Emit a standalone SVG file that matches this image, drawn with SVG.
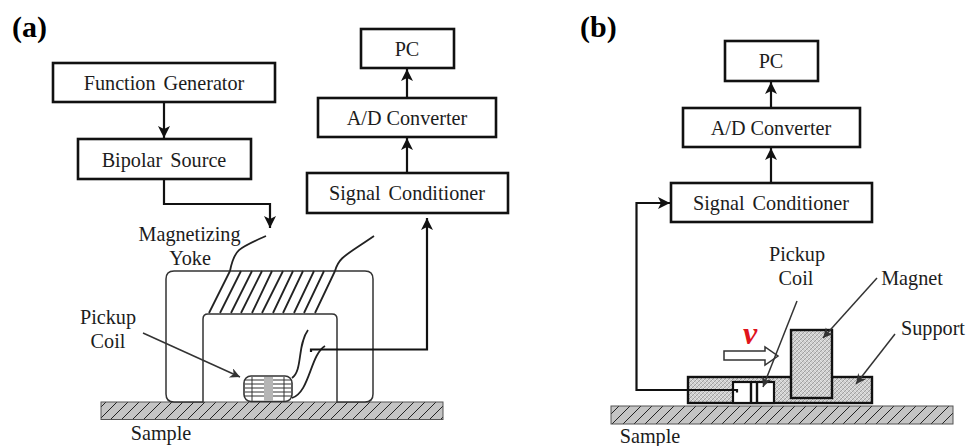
<svg xmlns="http://www.w3.org/2000/svg" width="978" height="446" viewBox="0 0 978 446">
<style>
text{font-family:"Liberation Serif","Times New Roman",serif;font-size:20.2px;fill:#1c1c1c;text-anchor:middle}
.bold{font-weight:bold;font-size:30px;fill:#000;text-anchor:start}
.box{fill:#fff;stroke:#111;stroke-width:2.6}
.wire{fill:none;stroke:#111;stroke-width:2.2}
.thin{fill:none;stroke:#222;stroke-width:1.8}
.yoke{fill:#fff;stroke:#333;stroke-width:1.5}
.lead{fill:none;stroke:#333;stroke-width:1.5}
.heavy{fill:none;stroke:#111;stroke-width:2.4}
</style>
<defs>
<marker id="arr" markerUnits="userSpaceOnUse" markerWidth="15" markerHeight="15" refX="12" refY="6.500" orient="auto"><path d="M0 .5L12 6.500L0 12.500L3 6.500Z" fill="#111"/></marker>
<marker id="arrs" markerUnits="userSpaceOnUse" markerWidth="12" markerHeight="12" refX="10" refY="5" orient="auto"><path d="M0 0L10 5L0 10L3 5Z" fill="#333"/></marker>
<pattern id="hatch" patternUnits="userSpaceOnUse" width="11" height="11" patternTransform="translate(2 0)"><rect width="11" height="11" fill="#c4c4c4"/><path d="M-1 12L12 -1M-3 3L3 -3M8 14L14 8" stroke="#222" stroke-width="1"/></pattern>
<pattern id="dots" patternUnits="userSpaceOnUse" width="4" height="4"><rect width="4" height="4" fill="#cfcfcf"/><path d="M0 4L4 0" stroke="#9c9c9c" stroke-width=".9"/><path d="M0 0L4 4" stroke="#eeeeee" stroke-width=".7"/></pattern>
</defs>

<text class="bold" x="12" y="37">(a)</text>
<text class="bold" x="580" y="37">(b)</text>

<g id="sample-a"><rect x="101" y="402" width="342" height="17.500" fill="url(#hatch)" stroke="#555" stroke-width="1"/><text x="161" y="440">Sample</text></g>

<g id="yoke">
<path class="yoke" d="M166 279Q166 271 174 271H365Q373 271 373 279V394Q373 402 365 402H337V319Q337 314 332 314H208Q203 314 203 319V402H174Q166 402 166 394Z"/>
<path class="thin" d="M209 313L230 271M220 313L241 271M231 313L252 271M241 313L262 271M252 313L272 271M262 313L283 271M273 313L293 271M283 313L303 271M294 313L314 271M304 313L324 271M315 313L335 271"/>
<path class="thin" d="M230 271C234 250 238 248 266 236M335 271C339 257 345 256 374 236"/>
<text x="189.500" y="241">Magnetizing</text>
<text x="190" y="265">Yoke</text>
</g>

<g id="pickup-coil-a">
<rect x="244" y="376" width="48" height="25.500" rx="7" fill="#fff" stroke="#333" stroke-width="1.600"/>
<path d="M245 380H264M245 384H264M245 388H264M245 392H264M245 396H264M273 380H291M273 384H291M273 388H291M273 392H291M273 396H291M252 377V401M284 377V401" stroke="#333" stroke-width="1" fill="none"/>
<rect x="264" y="377" width="9" height="24" fill="#b5b5b5"/>
<path class="thin" d="M292 378C303 370 297 345 308 330M292 398C310 392 310 355 325 346"/>
<path class="lead" d="M143 333L240 377" marker-end="url(#arrs)"/>
<text x="108" y="324">Pickup</text>
<text x="108" y="348">Coil</text>
</g>

<g id="function-generator"><rect class="box" x="53" y="63" width="222" height="39"/><text x="164" y="90" word-spacing="3">Function Generator</text></g>
<g id="bipolar-source"><rect class="box" x="78" y="139" width="173" height="40"/><text x="164" y="167" word-spacing="3">Bipolar Source</text></g>
<g id="pc-a"><rect class="box" x="361" y="29" width="93" height="39"/><text x="407" y="56">PC</text></g>
<g id="adc-a"><rect class="box" x="318" y="98" width="178" height="39"/><text x="407" y="125">A/D Converter</text></g>
<g id="signal-a"><rect class="box" x="307" y="173" width="201" height="40"/><text x="407" y="200" word-spacing="3">Signal Conditioner</text></g>

<g id="pc-b"><rect class="box" x="725" y="41" width="93" height="40"/><text x="771" y="68">PC</text></g>
<g id="adc-b"><rect class="box" x="683" y="108" width="177" height="39"/><text x="771" y="135">A/D Converter</text></g>
<g id="signal-b"><rect class="box" x="671" y="183" width="201" height="39"/><text x="771" y="210" word-spacing="3">Signal Conditioner</text></g>

<g id="sample-b"><rect x="611" y="406" width="342" height="18" fill="url(#hatch)" stroke="#555" stroke-width="1"/><text x="650" y="443">Sample</text></g>

<g id="support"><rect x="688" y="377" width="184" height="26" fill="url(#dots)" stroke="#111" stroke-width="2.400"/><text x="933" y="335">Support</text></g>
<g id="pickup-coil-b">
<rect x="733" y="382" width="41" height="21" fill="#fff" stroke="#111" stroke-width="2.200"/>
<path class="heavy" d="M751 382V403M757 382V403"/>
<text x="797" y="261">Pickup</text>
<text x="796" y="285">Coil</text>
</g>
<g id="magnet"><rect x="791" y="330" width="41" height="68" fill="url(#dots)" stroke="#111" stroke-width="2.400"/><text x="912" y="285">Magnet</text></g>
<g id="velocity">
<path d="M724 351H765V347L778 356L765 365V360H724Z" fill="#fff" stroke="#333" stroke-width="1.500"/>
<text x="750" y="344" style="font-size:32px;font-style:italic;font-weight:bold;fill:#e0141c">ν</text>
</g>
<g id="connectors">
<path class="wire" d="M164 102V138" marker-end="url(#arr)"/>
<path class="wire" d="M164 179V204H270V228" marker-end="url(#arr)"/>
<path class="wire" d="M407 98V69" marker-end="url(#arr)"/>
<path class="wire" d="M407 173V138" marker-end="url(#arr)"/>
<path class="wire" d="M311 352V349.500H427V218" marker-end="url(#arr)"/>
<path class="wire" d="M771 108V82" marker-end="url(#arr)"/>
<path class="wire" d="M771 183V148" marker-end="url(#arr)"/>
<path class="wire" d="M737 392.500V390H636.500V203H670" marker-end="url(#arr)"/>
<path class="lead" d="M797 301L763 387" marker-end="url(#arrs)"/>
<path class="lead" d="M877 278L823 338" marker-end="url(#arrs)"/>
<path class="lead" d="M895 334L856 384" marker-end="url(#arrs)"/>
</g>
</svg>
